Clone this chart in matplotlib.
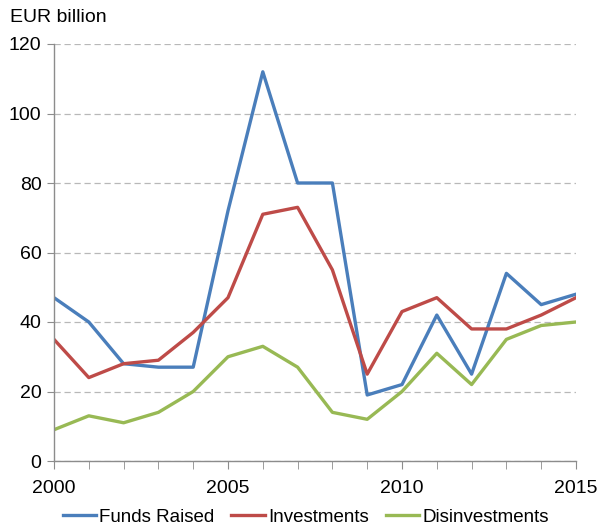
import matplotlib
matplotlib.use('Agg')
import matplotlib.pyplot as plt
from matplotlib.ticker import MultipleLocator

plt.rcParams['font.family'] = ['Liberation Sans', 'DejaVu Sans']

years = list(range(2000, 2016))
funds_raised = [47, 40, 28, 27, 27, 72, 112, 80, 80, 19, 22, 42, 25, 54, 45, 48]
investments = [35, 24, 28, 29, 37, 47, 71, 73, 55, 25, 43, 47, 38, 38, 42, 47]
disinvestments = [9, 13, 11, 14, 20, 30, 33, 27, 14, 12, 20, 31, 22, 35, 39, 40]

fig = plt.figure(figsize=(5.99, 5.27), dpi=100)
ax = fig.add_axes([54 / 599, 1 - 461 / 527, 522 / 599, 417 / 527])

ax.plot(years, funds_raised, color='#4a7ebb', lw=2.4, label='Funds Raised')
ax.plot(years, investments, color='#be4b48', lw=2.4, label='Investments')
ax.plot(years, disinvestments, color='#98b954', lw=2.4, label='Disinvestments')

ax.set_xlim(2000, 2015)
ax.set_ylim(0, 120)
ax.set_xticks([2000, 2005, 2010, 2015])
ax.xaxis.set_minor_locator(MultipleLocator(1))
ax.set_yticks(range(0, 121, 20))

ax.grid(axis='y', color='#b8b8b8', ls=(0, (5, 3)), lw=0.9)
ax.set_axisbelow(True)
for s in ['top', 'right']:
    ax.spines[s].set_visible(False)
for s in ['left', 'bottom']:
    ax.spines[s].set_color('#8c8c8c')
    ax.spines[s].set_linewidth(1.0)

ax.tick_params(axis='both', which='both', color='#8c8c8c', labelsize=14, direction='out')
ax.tick_params(axis='x', which='both', length=6, pad=8)
ax.tick_params(axis='y', length=5, pad=4)

fig.text(10 / 599, 1 - 18 / 527, 'EUR billion', fontsize=14, va='center', ha='left')

ax.legend(loc='center', bbox_to_anchor=(0.482, -0.135), ncol=3, frameon=False,
          fontsize=13.5, handlelength=1.8, handletextpad=0.15, columnspacing=0.9)

fig.savefig('out.png', dpi=100)
